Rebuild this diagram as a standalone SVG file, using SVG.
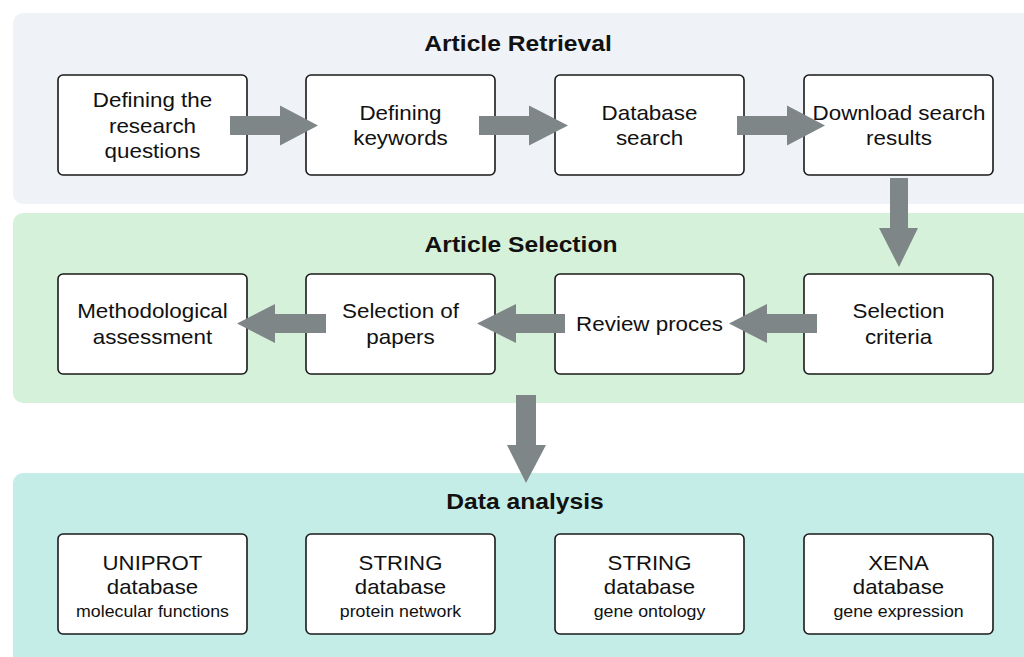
<svg xmlns="http://www.w3.org/2000/svg" width="1024" height="657" viewBox="0 0 1024 657">
<style>
.panel{stroke:none}
.box{fill:#ffffff;stroke:#1a1a1a;stroke-width:1.6}
.t{font-family:"Liberation Sans",Arial,sans-serif;font-size:20px;fill:#111;text-anchor:middle}
.s{font-size:16px}
.h{font-family:"Liberation Sans",Arial,sans-serif;font-size:22px;font-weight:bold;fill:#111;text-anchor:middle}
.arr{fill:#7f8687}
</style>
<rect width="1024" height="657" fill="#ffffff"/>
<g id="panel-retrieval">
<rect class="panel" x="13" y="13" width="1030" height="191" rx="10" fill="#eff3f8"/>
<text class="h" transform="translate(518 0) scale(1.12 1)" x="0" y="51">Article Retrieval</text>
</g>
<g id="panel-selection">
<rect class="panel" x="13" y="213" width="1030" height="190" rx="10" fill="#d6f1da"/>
<text class="h" transform="translate(521 0) scale(1.12 1)" x="0" y="252">Article Selection</text>
</g>
<g id="panel-analysis">
<rect class="panel" x="13" y="473" width="1030" height="200" rx="10" fill="#c5ede7"/>
<text class="h" transform="translate(525 0) scale(1.12 1)" x="0" y="509">Data analysis</text>
</g>

<g id="n1"><rect class="box" x="58" y="75" width="189" height="100" rx="5"/>
<text class="t" transform="translate(152.5 0) scale(1.12 1)"><tspan x="0" y="107">Defining the</tspan><tspan x="0" y="133">research</tspan><tspan x="0" y="158">questions</tspan></text></g>
<g id="n2"><rect class="box" x="306" y="75" width="189" height="100" rx="5"/>
<text class="t" transform="translate(400.5 0) scale(1.12 1)"><tspan x="0" y="120">Defining</tspan><tspan x="0" y="145">keywords</tspan></text></g>
<g id="n3"><rect class="box" x="555" y="75" width="189" height="100" rx="5"/>
<text class="t" transform="translate(649.5 0) scale(1.12 1)"><tspan x="0" y="120">Database</tspan><tspan x="0" y="145">search</tspan></text></g>
<g id="n4"><rect class="box" x="804" y="75" width="189" height="100" rx="5"/>
<text class="t" transform="translate(899 0) scale(1.12 1)"><tspan x="0" y="120">Download search</tspan><tspan x="0" y="145">results</tspan></text></g>

<g id="n5"><rect class="box" x="58" y="274" width="189" height="100" rx="5"/>
<text class="t" transform="translate(152.5 0) scale(1.12 1)"><tspan x="0" y="318">Methodological</tspan><tspan x="0" y="344">assessment</tspan></text></g>
<g id="n6"><rect class="box" x="306" y="274" width="189" height="100" rx="5"/>
<text class="t" transform="translate(400.5 0) scale(1.12 1)"><tspan x="0" y="318">Selection of</tspan><tspan x="0" y="344">papers</tspan></text></g>
<g id="n7"><rect class="box" x="555" y="274" width="189" height="100" rx="5"/>
<text class="t" transform="translate(649.5 0) scale(1.12 1)"><tspan x="0" y="331">Review proces</tspan></text></g>
<g id="n8"><rect class="box" x="804" y="274" width="189" height="100" rx="5"/>
<text class="t" transform="translate(898.5 0) scale(1.12 1)"><tspan x="0" y="318">Selection</tspan><tspan x="0" y="344">criteria</tspan></text></g>

<g id="n9"><rect class="box" x="58" y="534" width="189" height="100" rx="5"/>
<text class="t" transform="translate(152.5 0) scale(1.11 1)"><tspan x="0" y="570">UNIPROT</tspan><tspan x="0" y="594">database</tspan><tspan class="s" x="0" y="617">molecular functions</tspan></text></g>
<g id="n10"><rect class="box" x="306" y="534" width="189" height="100" rx="5"/>
<text class="t" transform="translate(400.5 0) scale(1.11 1)"><tspan x="0" y="570">STRING</tspan><tspan x="0" y="594">database</tspan><tspan class="s" x="0" y="617">protein network</tspan></text></g>
<g id="n11"><rect class="box" x="555" y="534" width="189" height="100" rx="5"/>
<text class="t" transform="translate(649.5 0) scale(1.11 1)"><tspan x="0" y="570">STRING</tspan><tspan x="0" y="594">database</tspan><tspan class="s" x="0" y="617">gene ontology</tspan></text></g>
<g id="n12"><rect class="box" x="804" y="534" width="189" height="100" rx="5"/>
<text class="t" transform="translate(898.5 0) scale(1.11 1)"><tspan x="0" y="570">XENA</tspan><tspan x="0" y="594">database</tspan><tspan class="s" x="0" y="617">gene expression</tspan></text></g>

<g id="connectors">
<polygon class="arr" points="230,116 280,116 280,105.5 318,125.5 280,145.5 280,135 230,135"/>
<polygon class="arr" points="479,116 529,116 529,105.5 568,125.5 529,145.5 529,135 479,135"/>
<polygon class="arr" points="737,116 787,116 787,105.5 825,125.5 787,145.5 787,135 737,135"/>
<polygon class="arr" points="890,178 908,178 908,228 918,228 899,267 879,228 890,228"/>
<polygon class="arr" points="817,314 767,314 767,304 729,323.5 767,343 767,333 817,333"/>
<polygon class="arr" points="565,314 516,314 516,304 477,323.5 516,343 516,333 565,333"/>
<polygon class="arr" points="326,314 275,314 275,304 237,323.5 275,343 275,333 326,333"/>
<polygon class="arr" points="516,395 536,395 536,445 546,445 526,483 507,445 516,445"/>
</g>
</svg>
